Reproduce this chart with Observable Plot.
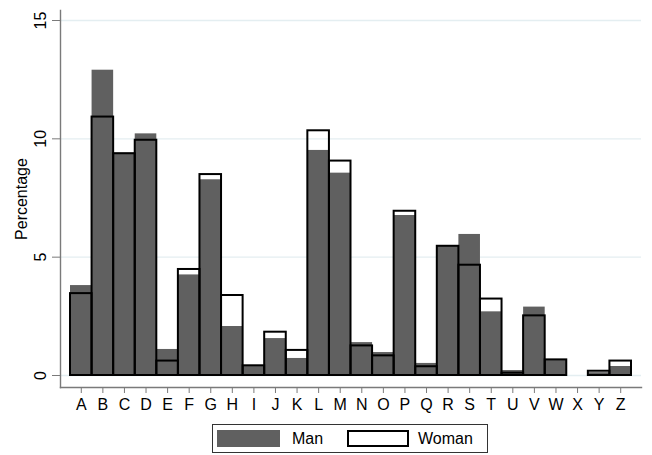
<!DOCTYPE html>
<html>
<head>
<meta charset="utf-8">
<script src="https://cdn.jsdelivr.net/npm/d3@7"></script>
<script src="https://cdn.jsdelivr.net/npm/@observablehq/plot@0.6"></script>
<style>
  body { margin: 0; background: #fff; font-family: "Liberation Sans", Arial, sans-serif; }
  #wrap { position: relative; width: 652px; height: 455px; overflow: hidden; }
  #legend { position: absolute; left: 212px; top: 424px; width: 276px; height: 29px; border: 1px solid #333; box-sizing: border-box; font-size: 16px; color: #000; }
  .sw { position: absolute; top: 5px; height: 17px; box-sizing: border-box; }
  .lt { position: absolute; top: 4px; line-height: 20px; }
</style>
</head>
<body>
<div id="wrap">
  <div id="chart"></div>
  <div id="legend">
    <div class="sw" style="left:4px;width:63px;background:#606060;"></div>
    <div class="lt" style="left:79px;">Man</div>
    <div class="sw" style="left:134px;width:62px;border:2px solid #000;background:#fff;"></div>
    <div class="lt" style="left:205px;">Woman</div>
  </div>
</div>
<script>
const categories = ["A","B","C","D","E","F","G","H","I","J","K","L","M","N","O","P","Q","R","S","T","U","V","W","X","Y","Z"];
const manValues   = [3.80, 12.90, 9.40, 10.21, 1.10, 4.25, 8.27, 2.07, 0.41, 1.56, 0.72, 9.51, 8.55, 1.39, 0.97, 6.76, 0.51, 5.46, 5.96, 2.69, 0.21, 2.89, 0.66, 0, 0.12, 0.38];
const womanValues = [3.46, 10.92, 9.37, 9.94, 0.61, 4.48, 8.49, 3.38, 0.41, 1.83, 1.06, 10.34, 9.06, 1.25, 0.83, 6.94, 0.37, 5.46, 4.66, 3.23, 0.10, 2.52, 0.66, 0, 0.18, 0.61];
const yTicks = [0, 5, 10, 15];

const manRows = categories.map((c, i) => ({cat: c, value: manValues[i]})).filter(d => d.value > 0);
const womanRows = categories.map((c, i) => ({cat: c, value: womanValues[i]})).filter(d => d.value > 0);

const chart = Plot.plot({
  width: 652,
  height: 420,
  marginLeft: 60,
  marginRight: 11,
  marginTop: 10,
  marginBottom: 33,
  style: {fontSize: "16px", fontFamily: "Liberation Sans, Arial, sans-serif", color: "#000", background: "#fff", overflow: "visible"},
  x: {type: "band", domain: categories, padding: 0, round: false, insetLeft: 10, insetRight: 10, label: null},
  y: {domain: [0, 15], insetTop: 10, insetBottom: 12, label: "Percentage", labelArrow: "none"},
  marks: [
    Plot.ruleY(yTicks, {stroke: "#e4eef1", strokeWidth: 1.3}),
    Plot.barY(manRows, {x: "cat", y: "value", fill: "#606060"}),
    Plot.barY(womanRows, {x: "cat", y: "value", fill: "none", stroke: "#000", strokeWidth: 2}),
    Plot.frame({anchor: "left", stroke: "#7a7a7a", strokeWidth: 1.4}),
    Plot.frame({anchor: "bottom", stroke: "#7a7a7a", strokeWidth: 1.4}),
    Plot.axisY({ticks: yTicks, tickSize: 8, tickPadding: 7, tickRotate: -90, stroke: "#7a7a7a", label: "Percentage", labelArrow: "none", labelAnchor: "center", labelOffset: 45}),
    Plot.axisX({tickSize: 6, tickPadding: 5, stroke: "#7a7a7a", label: null})
  ]
});
document.getElementById("chart").appendChild(chart);
</script>
</body>
</html>
